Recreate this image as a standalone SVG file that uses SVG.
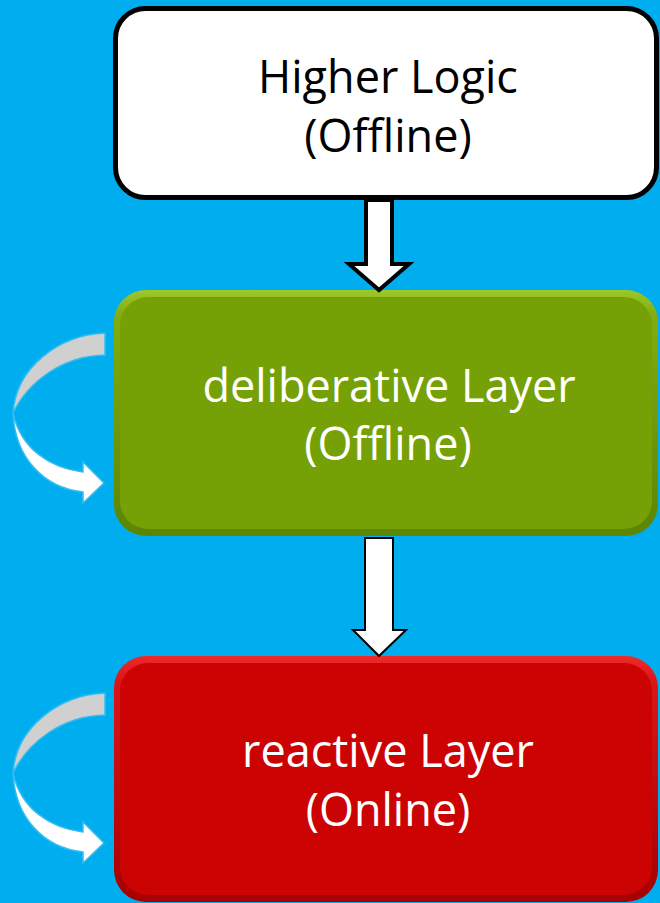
<svg xmlns="http://www.w3.org/2000/svg" width="660" height="903" viewBox="0 0 660 903">
<defs>
<style>
.lbl{font-family:"Open Sans","Noto Sans","Liberation Sans",sans-serif;font-size:45px;text-anchor:middle}
.dark{fill:#000}
.light{fill:#fff}
.gray{fill:#d0d0d0;stroke:#35bdf0;stroke-width:1.5}
.wh{fill:#fff;stroke:#35bdf0;stroke-width:1.5}
</style>
<linearGradient id="gEdge" x1="0" y1="0" x2="0" y2="1">
<stop offset="0" stop-color="#9cc82a"/><stop offset="0.1" stop-color="#82ad10"/><stop offset="1" stop-color="#5b8503"/>
</linearGradient>
<linearGradient id="rEdge" x1="0" y1="0" x2="0" y2="1">
<stop offset="0" stop-color="#ee2a2a"/><stop offset="0.1" stop-color="#da1616"/><stop offset="1" stop-color="#a50000"/>
</linearGradient>
<g id="loopShape">
<path class="gray" d="M105,333 C58,335 16,368 13,413 C28,382 62,356 105,355 Z"/>
<path class="wh" d="M13,413 C15,458 44,488 83,492 L83,503 L104,483 L83,462 L83,472 C50,468 21,449 13,413 Z"/>
</g>
</defs>
<rect x="0" y="0" width="660" height="903" fill="#00aeef"/>
<g id="higher-logic">
<rect x="115.5" y="8.5" width="541" height="189" rx="30" ry="30" fill="#fff" stroke="#000" stroke-width="5"/>
<text class="lbl dark" x="388" y="93">Higher Logic</text>
<text class="lbl dark" x="388" y="152">(Offline)</text>
</g>
<g id="deliberative-layer">
<rect x="114" y="290" width="544" height="246" rx="32" ry="32" fill="url(#gEdge)"/>
<rect x="120" y="297" width="532" height="232" rx="28" ry="28" fill="#76a106"/>
<text class="lbl light" x="389" y="402">deliberative Layer</text>
<text class="lbl light" x="388" y="460">(Offline)</text>
</g>
<g id="reactive-layer">
<rect x="114" y="656" width="544" height="246" rx="32" ry="32" fill="url(#rEdge)"/>
<rect x="120" y="663" width="532" height="232" rx="28" ry="28" fill="#cc0303"/>
<text class="lbl light" x="388" y="767">reactive Layer</text>
<text class="lbl light" x="388" y="826">(Online)</text>
</g>
<g id="connectors">
<path d="M366,200 L392,200 L392,264 L409,264 L379,290 L349,264 L366,264 Z" fill="#fff" stroke="#000" stroke-width="4" stroke-linejoin="miter"/>
<path d="M365,538 L393,538 L393,630 L406,630 L379,656 L353,630 L365,630 Z" fill="#fff" stroke="#000" stroke-width="2"/>
<use href="#loopShape"/>
<use href="#loopShape" transform="translate(0,360)"/>
</g>
</svg>
